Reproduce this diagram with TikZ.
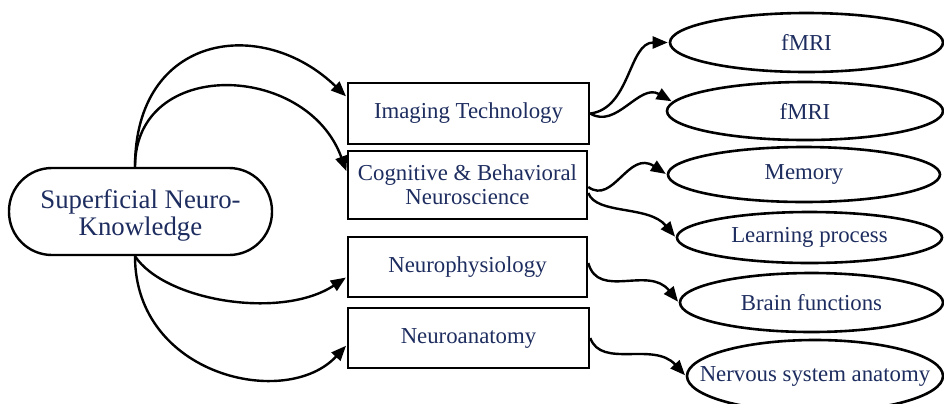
\documentclass[tikz,border=0pt]{standalone}
\usepackage{fontspec}
\setmainfont{Liberation Serif}
\usetikzlibrary{arrows.meta,shapes.geometric}
\definecolor{navy}{RGB}{30,45,95}
\begin{document}
\begin{tikzpicture}[x=0.5pt,y=0.5pt,
  box/.style={draw, line width=1.3pt, fill=white, text=navy, inner sep=0pt,
    align=center, font=\fontsize{11.4}{12}\selectfont},
  oval/.style={ellipse, draw, line width=1.3pt, fill=white, text=navy, inner sep=0pt,
    font=\fontsize{11.4}{12}\selectfont},
  pill/.style={draw, line width=1.2pt, fill=white, inner sep=0pt,
    rounded corners=21.5pt},
  pilltext/.style={text=navy, inner sep=0pt, align=center, font=\fontsize{13.4}{13.5}\selectfont},
  conn/.style={line width=1.2pt, -{Triangle[length=7.5pt,width=6pt]}, shorten >=0.5pt}
]
\useasboundingbox (0,0) rectangle (944,-403);
\clip (0,0) rectangle (944,-403);

% main pill
\node[pill, minimum width=131.5pt, minimum height=43.5pt] (p) at (140.5,-211.5) {};
\node[pilltext] (pt) at ([yshift=-2pt]p.center) {Superficial Neuro-\\Knowledge};

% boxes
\node[box, minimum width=120.5pt, minimum height=30.5pt] (b1) at (468.5,-113.5) {Imaging Technology};
\node[box, minimum width=119.5pt, minimum height=34pt] (b2) at (467.5,-185) {Cognitive \& Behavioral\\Neuroscience};
\node[box, minimum width=119.5pt, minimum height=30pt] (b3) at (467.5,-267) {Neurophysiology};
\node[box, minimum width=120.5pt, minimum height=30pt] (b4) at (468.5,-338) {Neuroanatomy};

% ellipses
\node[oval, minimum width=136.5pt, minimum height=29.5pt] (e1) at (806.5,-42.5) {\makebox[0pt][c]{fMRI}};
\node[oval, minimum width=138pt, minimum height=29pt] (e2) at (805,-111) {\makebox[0pt][c]{fMRI}};
\node[oval, minimum width=136pt, minimum height=27.5pt] (e3) at (804,-174.5) {\makebox[0pt][c]{Memory}};
\node[oval, minimum width=132.5pt, minimum height=25.5pt] (e4) at (809.5,-237.5) {\makebox[0pt][c]{Learning process}};
\node[oval, minimum width=131.5pt, minimum height=29.5pt] (e5) at (811.5,-302.5) {\makebox[0pt][c]{Brain functions}};
\node[oval, minimum width=128pt, minimum height=36pt] (e6) at (815,-376) {\makebox[0pt][c]{Nervous system anatomy}};

% left connectors
\draw[conn] ([xshift=-2.75pt]p.north) .. controls +(0,133) and +(-85,82) .. ([yshift=8.25pt]b1.west);
\draw[conn] ([xshift=-2.75pt]p.north) .. controls +(0,110) and +(-40,110) .. ([yshift=6.5pt]b2.west);
\draw[conn] ([xshift=-2.75pt]p.south) .. controls +(30,-45) and +(-65,-43) .. ([yshift=-5pt]b3.west);
\draw[conn] ([xshift=-2.75pt]p.south) .. controls +(0,-120) and +(-60,-65) .. ([yshift=-3.5pt]b4.west);

% right connectors
\draw[conn] (b1.east) .. controls +(40,5) and +(-40,0) .. (e1.west);
\draw[conn] (b1.east) .. controls +(26,-16) and +(-33,19) .. (e2.176);
\draw[conn] ([yshift=-1pt]b2.east) .. controls +(25,-18) and +(-38,25) .. (e3.west);
\draw[conn] ([yshift=-4pt]b2.east) .. controls +(8,-22) and +(-27,32.5) .. (e4.west);
\draw[conn] ([yshift=2pt]b3.east) .. controls +(10,-37) and +(-30,37.5) .. (e5.west);
\draw[conn] (b4.east) .. controls +(11,-31) and +(-32,35) .. (e6.west);
\end{tikzpicture}
\end{document}
